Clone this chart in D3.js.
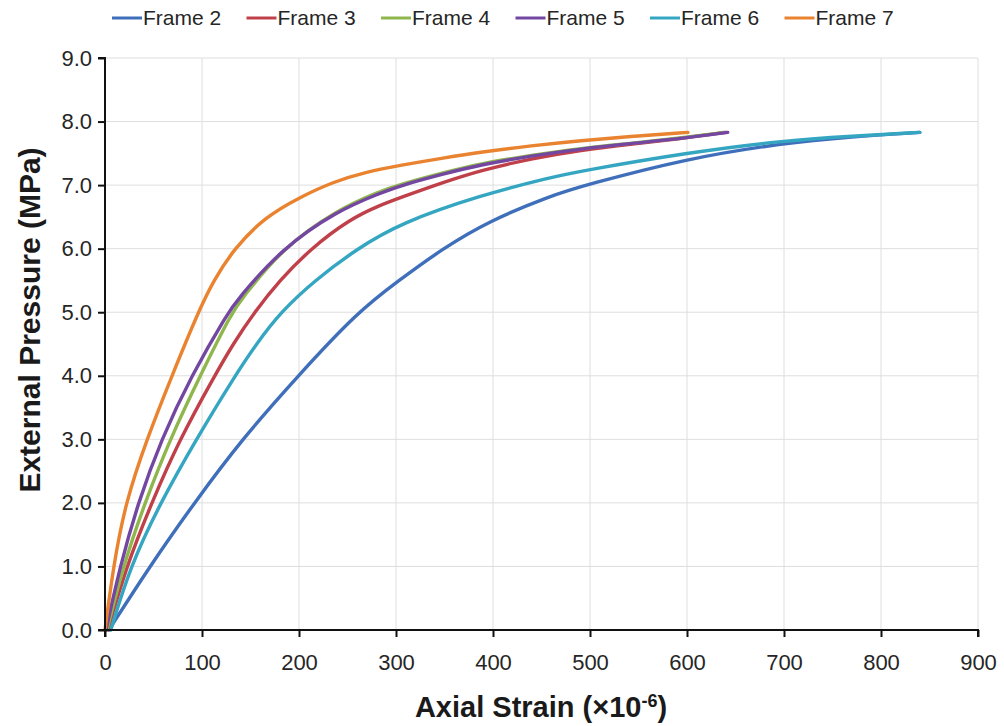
<!DOCTYPE html>
<html>
<head>
<meta charset="utf-8">
<script src="https://cdn.jsdelivr.net/npm/d3@7"></script>
<style>
  html, body { margin: 0; padding: 0; background: #fff; }
  svg { display: block; font-family: Arial, "Liberation Sans", sans-serif; }
</style>
</head>
<body>
<svg id="chart" width="1004" height="726"></svg>
<script>
// Axial strain (×10^-6) vs external pressure (MPa) for each frame
const seriesNames = ["Frame 2", "Frame 3", "Frame 4", "Frame 5", "Frame 6", "Frame 7"];
const seriesColors = ["#3f6fba", "#c0404a", "#8fb64c", "#7347a1", "#35a6c2", "#ea8330"];

const frame2 = [[4,0],[46,1],[92,2],[141,3],[199,4],[260,5],[303,5.5],[348,6.0],[395,6.43],[459,6.83],[495,7.0],[600,7.42],[699,7.66],[770,7.76],[840,7.83]];
const frame3 = [[3,0],[22,1],[48,2],[77,3],[113,4],[132,4.5],[154,5],[180,5.5],[212,6],[253,6.47],[283,6.68],[304,6.8],[350,7.05],[387,7.23],[440,7.42],[490,7.55],[545,7.65],[593,7.73],[640,7.83]];
const frame4 = [[2,0],[18.6,1],[41,2],[67,3],[98,4],[131,5],[140,5.19],[182,6],[240,6.62],[283,6.9],[304,7.01],[350,7.2],[387,7.34],[440,7.47],[490,7.58],[545,7.66],[593,7.74],[638,7.83]];
const frame5 = [[1,0],[15.5,1],[34,2],[58,3],[89,4],[127,5],[136,5.19],[182,6],[240,6.6],[283,6.87],[304,6.99],[350,7.18],[387,7.32],[440,7.46],[490,7.57],[545,7.66],[593,7.73],[642,7.83]];
const frame6 = [[6,0],[26,1],[57,2],[94,3],[134,4],[156,4.5],[181,5],[216,5.5],[260,6.0],[304,6.4],[387,6.84],[459,7.12],[490,7.22],[600,7.51],[699,7.7],[770,7.77],[840,7.83]];
const frame7 = [[0,0],[8.6,1],[21,2],[43,3],[69,4],[96,5],[112,5.5],[133,6],[165,6.5],[201,6.81],[235,7.05],[270,7.21],[304,7.31],[350,7.43],[387,7.52],[440,7.62],[490,7.7],[545,7.77],[601,7.83]];
const seriesValues = [frame2, frame3, frame4, frame5, frame6, frame7];

const xTicks = [0, 100, 200, 300, 400, 500, 600, 700, 800, 900];
const yTicks = [0, 1, 2, 3, 4, 5, 6, 7, 8, 9];

const svg = d3.select("#chart");
const x = d3.scaleLinear().domain([0, 900]).range([105, 978]);
const y = d3.scaleLinear().domain([0, 9]).range([630, 58]);

// grid
const grid = svg.append("g");
grid.selectAll("line.v").data(xTicks.slice(1)).join("line")
  .attr("x1", d => x(d)).attr("x2", d => x(d))
  .attr("y1", y(0)).attr("y2", y(9))
  .attr("stroke", "#dedede").attr("stroke-width", 1);
grid.selectAll("line.h").data(yTicks.slice(1)).join("line")
  .attr("x1", x(0)).attr("x2", x(900))
  .attr("y1", d => y(d)).attr("y2", d => y(d))
  .attr("stroke", "#dedede").attr("stroke-width", 1);

// series
const line = d3.line().x(d => x(d[0])).y(d => y(d[1])).curve(d3.curveBasis);
svg.append("g").selectAll("path").data(seriesValues).join("path")
  .attr("d", line)
  .attr("fill", "none")
  .attr("stroke", (d, i) => seriesColors[i])
  .attr("stroke-width", 3.4)
  .attr("stroke-linejoin", "round")
  .attr("stroke-linecap", "round");

// axes
const xAxis = svg.append("g").attr("transform", `translate(0,${y(0)})`)
  .call(d3.axisBottom(x).tickValues(xTicks).tickSize(7).tickPadding(17).tickFormat(d3.format("d")));
const yAxis = svg.append("g").attr("transform", `translate(${x(0)},0)`)
  .call(d3.axisLeft(y).tickValues(yTicks).tickSize(7).tickPadding(6).tickFormat(d3.format(".1f")));
[xAxis, yAxis].forEach(a => {
  a.select(".domain").attr("stroke", "#111").attr("stroke-width", 2);
  a.selectAll(".tick line").attr("stroke", "#111").attr("stroke-width", 2);
  a.selectAll(".tick text").attr("fill", "#262626").style("font-size", "22px")
    .style("font-family", "Arial, 'Liberation Sans', sans-serif");
});
xAxis.select(".domain").attr("d", `M${x(0)},7V0H${x(900)}V7`);
yAxis.select(".domain").attr("d", `M-7,${y(9)}H0V${y(0)}H-7`);

// axis titles
const xTitle = svg.append("text")
  .attr("x", 541).attr("y", 717)
  .attr("text-anchor", "middle")
  .attr("fill", "#1a1a1a")
  .style("font-size", "29px").style("font-weight", "bold");
xTitle.append("tspan").text("Axial Strain (×10");
xTitle.append("tspan").attr("baseline-shift", "super").style("font-size", "18px").text("-6");
xTitle.append("tspan").text(")");

svg.append("text")
  .attr("transform", "translate(40,320) rotate(-90)")
  .attr("text-anchor", "middle")
  .attr("fill", "#1a1a1a")
  .style("font-size", "30px").style("font-weight", "bold")
  .text("External Pressure (MPa)");

// legend
const legend = svg.append("g").attr("transform", "translate(112,18)");
const item = legend.selectAll("g").data(seriesNames).join("g")
  .attr("transform", (d, i) => `translate(${i * 134.5},0)`);
item.append("line").attr("x1", 0).attr("x2", 30).attr("y1", 0).attr("y2", 0)
  .attr("stroke", (d, i) => seriesColors[i]).attr("stroke-width", 3);
item.append("text").attr("x", 31).attr("y", 7)
  .attr("fill", "#262626").style("font-size", "21px")
  .text(d => d);
</script>
</body>
</html>
